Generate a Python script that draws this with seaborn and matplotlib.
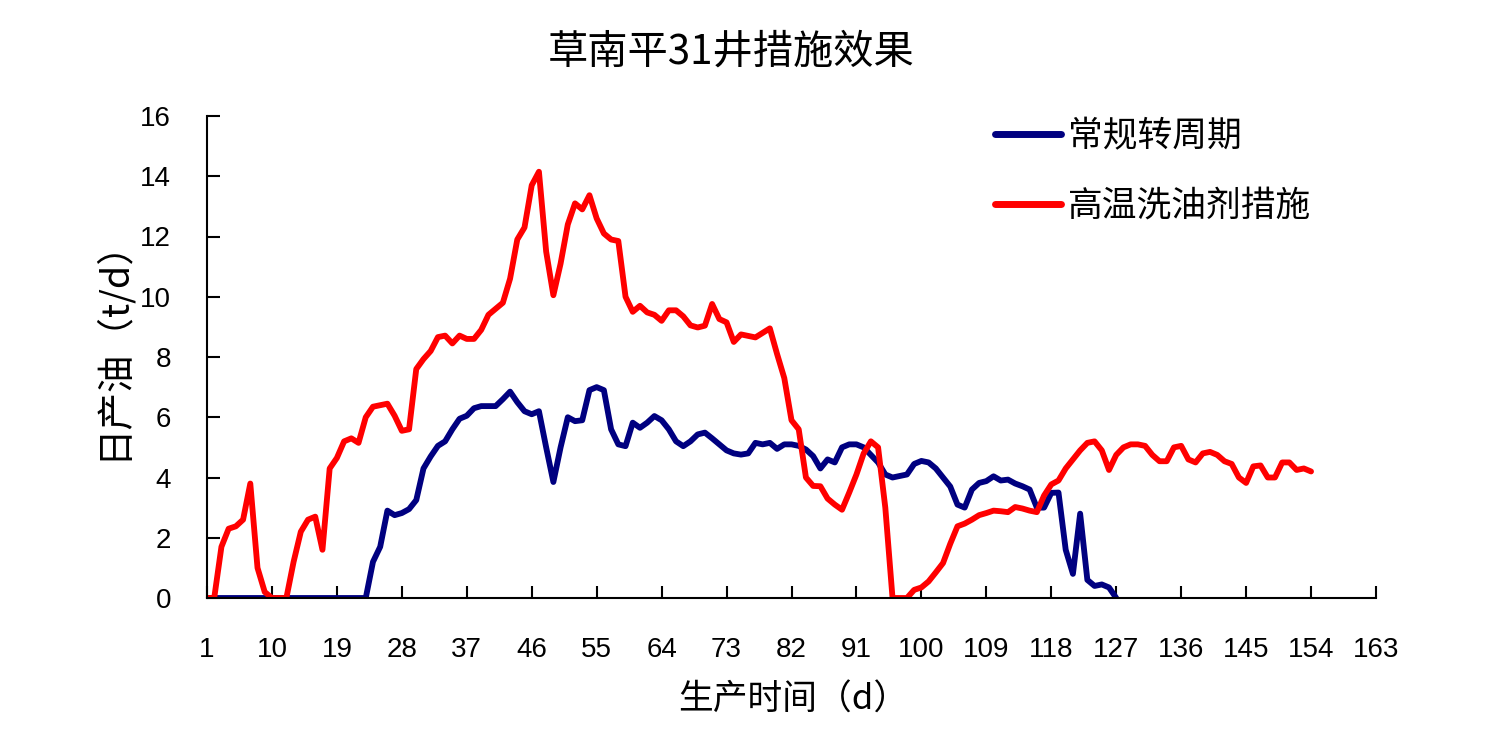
import numpy as np
import pandas as pd
import matplotlib
matplotlib.use("Agg")
import matplotlib.pyplot as plt
import seaborn as sns

# ---------------- data ----------------
title = "草南平31井措施效果"
series_names = ["常规转周期", "高温洗油剂措施"]
x_label = "生产时间（d）"
y_label = "日产油（t/d）"
x_ticks = list(range(1, 164, 9))
y_ticks = [0, 2, 4, 6, 8, 10, 12, 14, 16]

blue_days = [1, 23, 24, 25, 26, 27, 28, 29, 30, 31, 32, 33, 34, 35, 36, 37, 38, 39, 40,
             41, 42, 43, 44, 45, 46, 47, 48, 49, 50, 51, 52, 53, 54, 55, 56, 57, 58, 59, 60,
             61, 62, 63, 64, 65, 66, 67, 68, 69, 70, 71, 72, 73, 74, 75, 76, 77, 78, 79, 80,
             81, 82, 83, 84, 85, 86, 87, 88, 89, 90, 91, 92, 93, 94, 95, 96, 97, 98, 99, 100,
             101, 102, 103, 104, 105, 106, 107, 108, 109, 110, 111, 112, 113, 114, 115, 116,
             117, 118, 119, 120, 121, 122, 123, 124, 125, 126, 127]
blue_vals = [0, 0, 1.2, 1.7, 2.9, 2.75, 2.82, 2.95, 3.25, 4.3, 4.7, 5.05, 5.2, 5.6, 5.95, 6.05,
             6.3, 6.37, 6.37, 6.37, 6.6, 6.85, 6.5, 6.2, 6.1, 6.2, 5.0, 3.85, 5.0, 6.0, 5.87,
             5.9, 6.9, 7.0, 6.9, 5.6, 5.1, 5.04, 5.82, 5.65, 5.82, 6.04, 5.9, 5.6, 5.2, 5.04,
             5.2, 5.43, 5.49, 5.3, 5.1, 4.9, 4.8, 4.76, 4.8, 5.15, 5.1, 5.15, 4.95, 5.1, 5.1,
             5.05, 4.93, 4.71, 4.3, 4.6, 4.5, 5.0, 5.1, 5.1, 5.0, 4.75, 4.5, 4.1, 4.0, 4.05,
             4.1, 4.45, 4.55, 4.5, 4.3, 4.0, 3.7, 3.1, 3.0, 3.6, 3.82, 3.88, 4.04, 3.9, 3.93,
             3.8, 3.71, 3.6, 3.0, 3.0, 3.49, 3.5, 1.6, 0.8, 2.8, 0.6, 0.4, 0.45, 0.35, 0]

red_days = [1, 2, 3, 4, 5, 6, 7, 8, 9, 10, 12, 13, 14, 15, 16, 17, 18, 19, 20,
            21, 22, 23, 24, 25, 26, 27, 28, 29, 30, 31, 32, 33, 34, 35, 36, 37, 38, 39, 40,
            41, 42, 43, 44, 45, 46, 47, 48, 49, 50, 51, 52, 53, 54, 55, 56, 57, 58, 59, 60,
            61, 62, 63, 64, 65, 66, 67, 68, 69, 70, 71, 72, 73, 74, 75, 76, 77, 78, 79, 80,
            81, 82, 83, 84, 85, 86, 87, 88, 89, 90, 91, 92, 93, 94, 95, 96, 98, 99, 100,
            101, 102, 103, 104, 105, 106, 107, 108, 109, 110, 111, 112, 113, 114, 115, 116,
            117, 118, 119, 120, 121, 122, 123, 124, 125, 126, 127, 128, 129, 130, 131, 132,
            133, 134, 135, 136, 137, 138, 139, 140, 141, 142, 143, 144, 145, 146, 147, 148,
            149, 150, 151, 152, 153, 154]
red_vals = [0, 0, 1.7, 2.3, 2.38, 2.6, 3.8, 1.0, 0.2, 0, 0, 1.2, 2.2, 2.6, 2.7, 1.6, 4.3,
            4.65, 5.2, 5.3, 5.15, 6.0, 6.35, 6.4, 6.45, 6.05, 5.55, 5.6, 7.6, 7.93, 8.2, 8.66,
            8.71, 8.45, 8.71, 8.6, 8.6, 8.9, 9.4, 9.6, 9.8, 10.6, 11.9, 12.3, 13.7, 14.15,
            11.5, 10.05, 11.1, 12.4, 13.1, 12.9, 13.37, 12.6, 12.1, 11.9, 11.85, 10.0, 9.5,
            9.7, 9.48, 9.4, 9.2, 9.55, 9.55, 9.35, 9.05, 8.98, 9.04, 9.76, 9.26, 9.15, 8.5,
            8.75, 8.7, 8.65, 8.8, 8.95, 8.1, 7.3, 5.9, 5.6, 4.0, 3.72, 3.71, 3.3, 3.1, 2.93,
            3.5, 4.1, 4.8, 5.2, 5.0, 3.0, 0, 0, 0.27, 0.35, 0.55, 0.85, 1.16, 1.8, 2.38, 2.47,
            2.6, 2.75, 2.82, 2.9, 2.88, 2.85, 3.02, 2.97, 2.9, 2.85, 3.4, 3.77, 3.9, 4.3, 4.6,
            4.9, 5.15, 5.2, 4.9, 4.25, 4.75, 5.0, 5.1, 5.1, 5.05, 4.75, 4.54, 4.54, 5.0, 5.05,
            4.6, 4.5, 4.8, 4.85, 4.75, 4.54, 4.45, 4.0, 3.82, 4.37, 4.4, 4.0, 4.0, 4.5, 4.5,
            4.25, 4.3, 4.2]

colors = ["#000080", "#FF0000"]

# ---------------- build table ----------------
df = pd.concat([
    pd.DataFrame({"day": blue_days, "oil": blue_vals, "series": series_names[0]}),
    pd.DataFrame({"day": red_days, "oil": red_vals, "series": series_names[1]}),
], ignore_index=True)

sns.set_style("white")
plt.rcParams["font.family"] = ["Noto Sans CJK SC", "DejaVu Sans"]
plt.rcParams["text.color"] = "black"

fig = plt.figure(figsize=(14.92, 7.48), dpi=100)
ax = fig.add_axes([207 / 1492, 1 - 598 / 748, (1376 - 207) / 1492, (598 - 116) / 748])

sns.lineplot(data=df, x="day", y="oil", hue="series", palette=colors,
             hue_order=series_names, estimator=None, sort=False,
             linewidth=4.2, ax=ax, legend=True)

ax.set_xlim(1, 163)
ax.set_ylim(0, 16)
ax.set_xticks(x_ticks)
ax.set_yticks(y_ticks)
ax.set_xticklabels([str(t) for t in x_ticks])
ax.set_yticklabels([str(t) for t in y_ticks])

tickfont = ["Liberation Sans Narrow", "Liberation Sans", "DejaVu Sans"]
for lab in ax.get_xticklabels() + ax.get_yticklabels():
    lab.set_family(tickfont)
    lab.set_fontsize(20)
    lab.set_color("black")

ax.tick_params(axis="both", direction="in", length=9, width=1.5, color="black",
               labelcolor="black")
ax.tick_params(axis="y", left=True, pad=26)
ax.tick_params(axis="x", bottom=True, pad=28)

for s in ["top", "right"]:
    ax.spines[s].set_visible(False)
for s in ["left", "bottom"]:
    ax.spines[s].set_color("black")
    ax.spines[s].set_linewidth(1.5)

ax.set_xlabel("")
ax.set_ylabel("")
ax.grid(False)

fig.text(793 / 1492, 1 - 700 / 748, x_label, ha="center", va="center", fontsize=25,
         color="black")
fig.text(112 / 1492, 1 - 340 / 748, y_label, ha="center", va="center", fontsize=27,
         rotation=90, color="black")
fig.text(731 / 1492, 1 - 52 / 748, title, ha="center", va="center", fontsize=29,
         color="black")

handles, labels = ax.get_legend_handles_labels()
for h in handles:
    h.set_linewidth(5)
leg = ax.legend(handles, labels, loc="upper left", bbox_to_anchor=(995 / 1492, 1 - 119 / 748),
                bbox_transform=fig.transFigure, frameon=False, fontsize=25,
                handlelength=1.9, handletextpad=0.2, borderpad=0, borderaxespad=0,
                labelspacing=1.0)
for t in leg.get_texts():
    t.set_color("black")

fig.savefig("out.png", dpi=100, facecolor="white")
